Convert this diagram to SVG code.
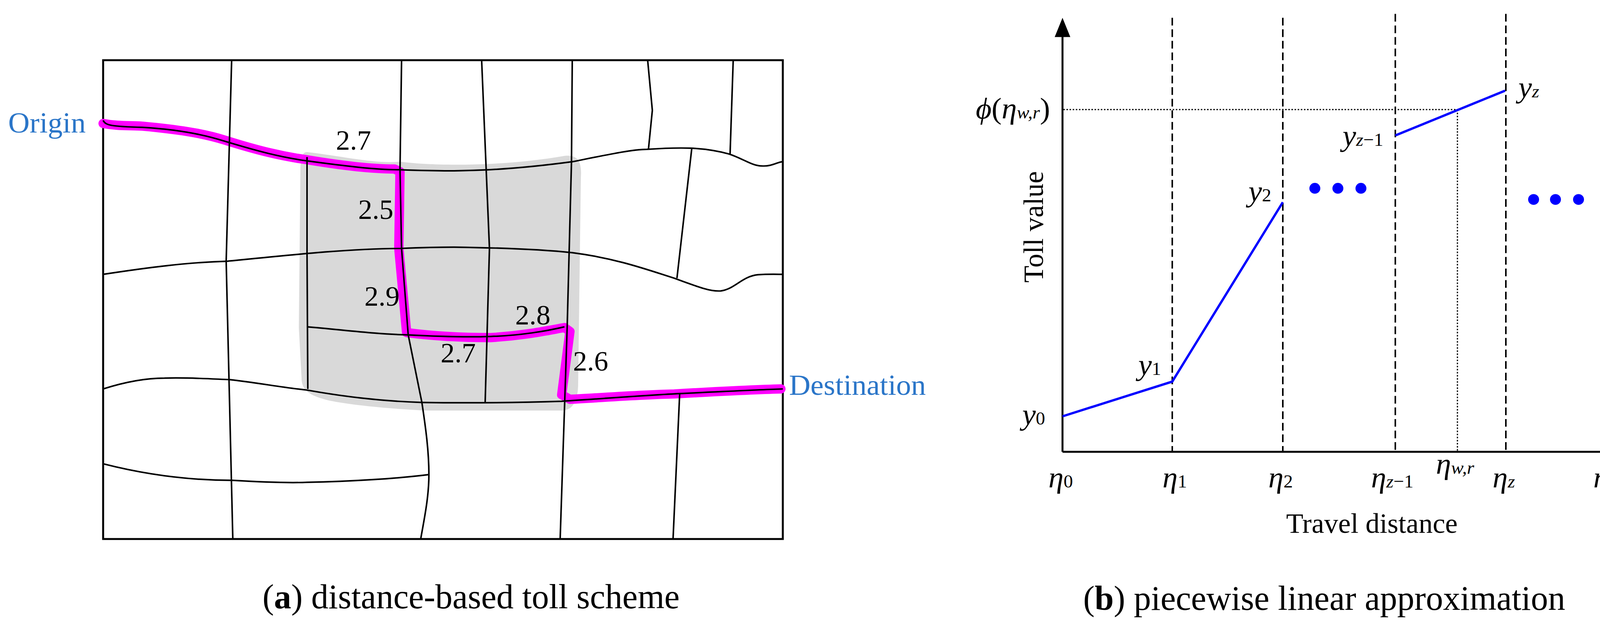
<svg xmlns="http://www.w3.org/2000/svg" width="4306" height="1586" viewBox="0 0 4306 1586">
<style>
.road{fill:none;stroke:#000;stroke-width:4;stroke-linejoin:round}
.t{font-family:"Liberation Serif",serif;font-size:72px;fill:#000}
.lbl{font-family:"Liberation Serif",serif;font-size:76px;fill:#2a75c8}
.cap{font-family:"Liberation Serif",serif;font-size:88px;fill:#000;text-anchor:middle}
.m{font-family:"Liberation Serif",serif;font-style:italic;font-size:78px;fill:#000}
.s{font-size:48px}
.dash{stroke:#000;stroke-width:4;stroke-dasharray:20 10;fill:none}
.dot{stroke:#000;stroke-width:3;stroke-dasharray:4 4;fill:none}
.blue{stroke:#0000ff;stroke-width:6;fill:none}
</style>
<rect width="4306" height="1586" fill="#fff"/>
<g id="panel-a">
<g transform="scale(1,0.987)">
<path id="zone" d="M786,394 C880,405 960,425 1024,419 C1120,432 1300,430 1445,404 C1480,400 1490,420 1487,460 L1480,1000 C1478,1050 1460,1066 1431,1064 L1094,1064 C1000,1060 900,1050 842,1038 C790,1025 772,1010 772,980 L765,849 L769,440 C770,405 775,394 786,394 Z" fill="#d9d9d9"/>
<rect x="264" y="156" width="1740" height="1241" fill="none" stroke="#000" stroke-width="5"/>
<g id="route-hl">
<path d="M264,320 C300,327 330,325 365,327 C450,335 520,345 575,363 C660,390 720,405 786,414 C880,430 960,438 1010,438 L1024,445 L1021,644 L1041,862 C1100,870 1180,875 1256,875 C1340,870 1400,857 1445,849 L1459,859 L1438,1023 L1459,1035 C1550,1030 1640,1023 1726,1021 C1830,1015 1920,1010 1999,1008" fill="none" stroke="#ff00ff" stroke-width="24" stroke-linecap="round" stroke-linejoin="round"/>
</g>
<g id="roads">
<path class="road" d="M264,312 C270,325 285,328 365,330 C450,335 520,348 575,366 C660,392 720,408 786,417 C880,430 960,440 1024,440 C1080,442 1150,444 1193,442 C1300,440 1400,428 1466,419 C1560,400 1620,387 1656,387 C1700,384 1740,383 1768,384 C1810,386 1840,392 1866,399 C1900,410 1925,430 1950,430 C1975,432 1990,420 2004,419"/>
<path class="road" d="M264,711 C380,693 480,680 582,677 C750,660 900,644 1024,644 C1100,641 1150,640 1193,641 C1300,643 1400,648 1466,655 C1580,670 1660,700 1726,721 C1790,745 1820,756 1845,754 C1880,750 1900,716 1940,712 C1970,710 1990,711 2004,711"/>
<path class="road" d="M786,847 C880,855 960,866 1045,868 C1120,872 1200,874 1256,872 C1330,870 1400,858 1445,847"/>
<path class="road" d="M264,1008 C320,990 370,980 421,980 C480,978 540,982 589,984 C660,992 720,1004 786,1011 C880,1028 980,1040 1080,1043 C1200,1045 1340,1043 1438,1040 C1560,1032 1660,1024 1740,1020 C1850,1015 1940,1010 2004,1008"/>
<path class="road" d="M264,1202 C380,1232 490,1245 596,1245 C680,1250 740,1252 786,1250 C900,1248 1020,1240 1098,1230"/>
<path class="road" d="M593,156 L579,677 L596,1397"/>
<path class="road" d="M1028,156 L1024,440 L1028,644 L1045,868 L1080,1043 C1090,1110 1098,1170 1098,1230 C1098,1290 1085,1350 1077,1397"/>
<path class="road" d="M1233,156 L1253,644 L1242,1043"/>
<path class="road" d="M1465,156 L1463,419 L1452,847 L1434,1397"/>
<path class="road" d="M1658,156 L1670,286 L1660,387"/>
<path class="road" d="M1877,156 L1869,399"/>
<path class="road" d="M1771,384 L1733,721"/>
<path class="road" d="M1740,1020 L1723,1397"/>
<path class="road" d="M786,407 L786,655 L788,1008"/>
</g>
<g id="labels-a">
<text class="lbl" x="21" y="343">Origin</text>
<text class="lbl" x="2020" y="1023">Destination</text>
<text class="t" x="860" y="388">2.7</text>
<text class="t" x="917" y="567">2.5</text>
<text class="t" x="933" y="792">2.9</text>
<text class="t" x="1319" y="841">2.8</text>
<text class="t" x="1128" y="939">2.7</text>
<text class="t" x="1467" y="961">2.6</text>
</g>
</g>
<text class="cap" x="1206" y="1556">(<tspan font-weight="bold">a</tspan>) distance-based toll scheme</text>
</g>
<g id="panel-b">
<g transform="scale(1,0.987)">
<g id="axes">
<line x1="2720" y1="1171" x2="2720" y2="88" stroke="#000" stroke-width="5"/>
<polygon points="2720,46 2700,96 2740,96" fill="#000"/>
<line x1="2720" y1="1171" x2="4225" y2="1171" stroke="#000" stroke-width="5"/>
<polygon points="4265,1171 4215,1150 4215,1192" fill="#000"/>
</g>
<g id="gridlines">
<line class="dash" x1="3001" y1="46" x2="3001" y2="1169"/>
<line class="dash" x1="3284" y1="46" x2="3284" y2="1169"/>
<line class="dash" x1="3572" y1="36" x2="3572" y2="1169"/>
<line class="dash" x1="3855" y1="36" x2="3855" y2="1169"/>
<line class="dash" x1="4115" y1="36" x2="4115" y2="1169"/>
<line class="dot" x1="2722" y1="284" x2="3731" y2="284"/>
<line class="dot" x1="3731" y1="284" x2="3731" y2="1169"/>
</g>
<g id="curve">
<polyline class="blue" points="2720,1079 3001,989 3284,524"/>
<line class="blue" x1="3572" y1="351" x2="3853" y2="235"/>
<g fill="#0000ff">
<circle cx="3366" cy="488" r="14"/><circle cx="3425" cy="488" r="14"/><circle cx="3484" cy="488" r="14"/>
<circle cx="3926" cy="517" r="14"/><circle cx="3982" cy="517" r="14"/><circle cx="4041" cy="517" r="14"/>
</g>
</g>
<g id="labels-b">
<text class="m" x="2617" y="1100">y<tspan class="s" font-style="normal">0</tspan></text>
<text class="m" x="2914" y="972">y<tspan class="s" font-style="normal">1</tspan></text>
<text class="m" x="3196" y="522">y<tspan class="s" font-style="normal">2</tspan></text>
<text class="m" x="3437" y="378">y<tspan class="s">z</tspan><tspan class="s" font-style="normal">−1</tspan></text>
<text class="m" x="3887" y="252">y<tspan class="s">z</tspan></text>
<text class="m" x="4128" y="120">y<tspan class="s">Z</tspan></text>
<text class="m" x="2498" y="307">ϕ<tspan font-style="normal">(</tspan>η<tspan class="s">w,r</tspan><tspan font-style="normal">)</tspan></text>
<text class="m" x="2684" y="1263">η<tspan class="s" font-style="normal">0</tspan></text>
<text class="m" x="2976" y="1263">η<tspan class="s" font-style="normal">1</tspan></text>
<text class="m" x="3247" y="1263">η<tspan class="s" font-style="normal">2</tspan></text>
<text class="m" x="3510" y="1263">η<tspan class="s">z</tspan><tspan class="s" font-style="normal">−1</tspan></text>
<text class="m" x="3676" y="1228">η<tspan class="s">w,r</tspan></text>
<text class="m" x="3821" y="1263">η<tspan class="s">z</tspan></text>
<text class="m" x="4079" y="1263">η<tspan class="s">Z</tspan></text>
<text class="t" transform="translate(2670,588) rotate(-90)" text-anchor="middle">Toll value</text>
<text class="t" x="3512" y="1381" text-anchor="middle">Travel distance</text>
</g>
</g>
<text class="cap" x="3390" y="1560">(<tspan font-weight="bold">b</tspan>) piecewise linear approximation</text>
</g>
</svg>
